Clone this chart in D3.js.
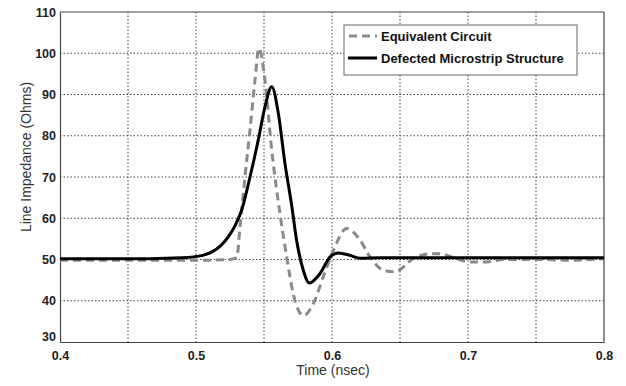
<!DOCTYPE html>
<html>
<head>
<meta charset="utf-8">
<script src="https://cdn.jsdelivr.net/npm/d3@7"></script>
<style>
  body { margin: 0; background: #fff; }
  text { font-family: "Liberation Sans", Arial, sans-serif; }
</style>
</head>
<body>
<div id="chart"></div>
<script>
// time (nsec) and impedance (Ohms)
var circuitT = [0.4, 0.5, 0.525, 0.530, 0.5324, 0.536, 0.5397, 0.5434, 0.5463, 0.5507, 0.5557, 0.5618, 0.5667, 0.5715, 0.5789, 0.5863, 0.5936, 0.601, 0.6108, 0.6206, 0.628, 0.6377, 0.6463, 0.6598, 0.672, 0.6794, 0.689, 0.7015, 0.7138, 0.7257, 0.7551, 0.775, 0.8];
var circuitZ = [49.8, 49.8, 50, 50.5, 58, 70, 81.4, 93.5, 101.2, 93.5, 76.5, 61, 50.6, 41.7, 36.4, 39.3, 45.8, 52.2, 57.5, 54.7, 50.6, 47.4, 47, 50.2, 51.4, 51.4, 50.5, 49.4, 49.4, 50, 50, 49.8, 50.2];

var dmsT = [0.4, 0.466, 0.49, 0.505, 0.512, 0.518, 0.524, 0.529, 0.5336, 0.5397, 0.5458, 0.5507, 0.5557, 0.5605, 0.5654, 0.5704, 0.574, 0.5789, 0.5833, 0.5912, 0.5985, 0.6046, 0.6132, 0.6206, 0.635, 0.8];
var dmsZ = [50.2, 50.2, 50.4, 51, 51.9, 53.3, 55.6, 58.4, 62, 70, 79, 87, 91.9, 85.5, 73.3, 63, 54.6, 47.4, 44.3, 46.6, 50.6, 51.6, 51, 50.3, 50.4, 50.4];

var xTickLabels = [0.4, 0.5, 0.6, 0.7, 0.8];
var xGrid = [0.45, 0.5, 0.55, 0.6, 0.65, 0.7, 0.75];
var yTicks = [30, 40, 50, 60, 70, 80, 90, 100, 110];

var seriesNames = ["Equivalent Circuit", "Defected Microstrip Structure"];

var margin = {top: 12, right: 22, bottom: 44, left: 60};
var width = 626 - margin.left - margin.right;
var height = 386 - margin.top - margin.bottom;

var svg = d3.select("#chart")
  .append("svg")
    .attr("width", 626)
    .attr("height", 386)
  .append("g")
    .attr("transform", "translate(" + margin.left + "," + margin.top + ")");

var x = d3.scaleLinear().domain([0.4, 0.8]).range([0, width]);
var y = d3.scaleLinear().domain([30, 110]).range([height, 0]);

// grid
svg.selectAll(".vgrid")
  .data(xGrid)
  .enter().append("line")
    .attr("x1", function(d) { return x(d) })
    .attr("x2", function(d) { return x(d) })
    .attr("y1", 0)
    .attr("y2", height)
    .attr("stroke", "#444")
    .attr("stroke-width", 1)
    .attr("stroke-dasharray", "1.5,2");

svg.selectAll(".hgrid")
  .data(yTicks.slice(1, -1))
  .enter().append("line")
    .attr("x1", 0)
    .attr("x2", width)
    .attr("y1", function(d) { return y(d) })
    .attr("y2", function(d) { return y(d) })
    .attr("stroke", "#444")
    .attr("stroke-width", 1)
    .attr("stroke-dasharray", "1.5,2");

// axes
var xAxis = svg.append("g")
  .attr("transform", "translate(0," + height + ")")
  .call(d3.axisBottom(x).tickValues(xTickLabels).tickSize(0).tickPadding(9).tickFormat(d3.format(".1f")));
var yAxis = svg.append("g")
  .call(d3.axisLeft(y).tickValues(yTicks).tickSize(0).tickPadding(4));

[xAxis, yAxis].forEach(function(a) {
  a.select(".domain").attr("stroke", "#444").attr("stroke-width", 1.2);
  a.selectAll("text")
    .attr("font-size", 12.5)
    .attr("font-weight", "bold")
    .attr("fill", "#222")
    .attr("font-family", "Liberation Sans, Arial, sans-serif");
});
yAxis.selectAll(".tick").filter(function(d) { return d == 30 }).select("text").attr("dy", "-0.1em");

// box top / right
svg.append("line").attr("x1", 0).attr("x2", width).attr("y1", 0).attr("y2", 0)
  .attr("stroke", "#444").attr("stroke-width", 1.2);
svg.append("line").attr("x1", width).attr("x2", width).attr("y1", 0).attr("y2", height)
  .attr("stroke", "#444").attr("stroke-width", 1.2);

// curves
var line = d3.line()
  .x(function(d) { return x(d[0]) })
  .y(function(d) { return y(d[1]) })
  .curve(d3.curveMonotoneX);

svg.append("path")
  .datum(d3.zip(circuitT, circuitZ))
  .attr("fill", "none")
  .attr("stroke", "#8a8a8a")
  .attr("stroke-width", 3)
  .attr("stroke-dasharray", "8,5")
  .attr("d", line);

svg.append("path")
  .datum(d3.zip(dmsT, dmsZ))
  .attr("fill", "none")
  .attr("stroke", "#000")
  .attr("stroke-width", 3)
  .attr("d", line);

// legend
var legend = svg.append("g").attr("transform", "translate(" + (344 - margin.left) + "," + (25 - margin.top) + ")");
legend.append("rect")
  .attr("width", 233)
  .attr("height", 50)
  .attr("fill", "#fff")
  .attr("stroke", "#666")
  .attr("stroke-width", 1);

legend.append("line")
  .attr("x1", 5).attr("x2", 33).attr("y1", 11).attr("y2", 11)
  .attr("stroke", "#8a8a8a").attr("stroke-width", 3).attr("stroke-dasharray", "8,5");
legend.append("line")
  .attr("x1", 4).attr("x2", 33).attr("y1", 33).attr("y2", 33)
  .attr("stroke", "#000").attr("stroke-width", 3);

legend.selectAll(".lbl")
  .data(seriesNames)
  .enter().append("text")
    .attr("x", 37)
    .attr("y", function(d, i) { return 15.5 + i * 22 })
    .attr("font-size", 13)
    .attr("font-weight", "bold")
    .attr("fill", "#111")
    .text(function(d) { return d });

// axis titles
svg.append("text")
  .attr("x", 333 - margin.left)
  .attr("y", 375 - margin.top)
  .attr("text-anchor", "middle")
  .attr("font-size", 14)
  .attr("fill", "#333")
  .text("Time (nsec)");

svg.append("text")
  .attr("transform", "translate(" + (31 - margin.left) + "," + (157 - margin.top) + ") rotate(-90)")
  .attr("text-anchor", "middle")
  .attr("font-size", 14)
  .attr("fill", "#333")
  .text("Line Impedance (Ohms)");
</script>
</body>
</html>
